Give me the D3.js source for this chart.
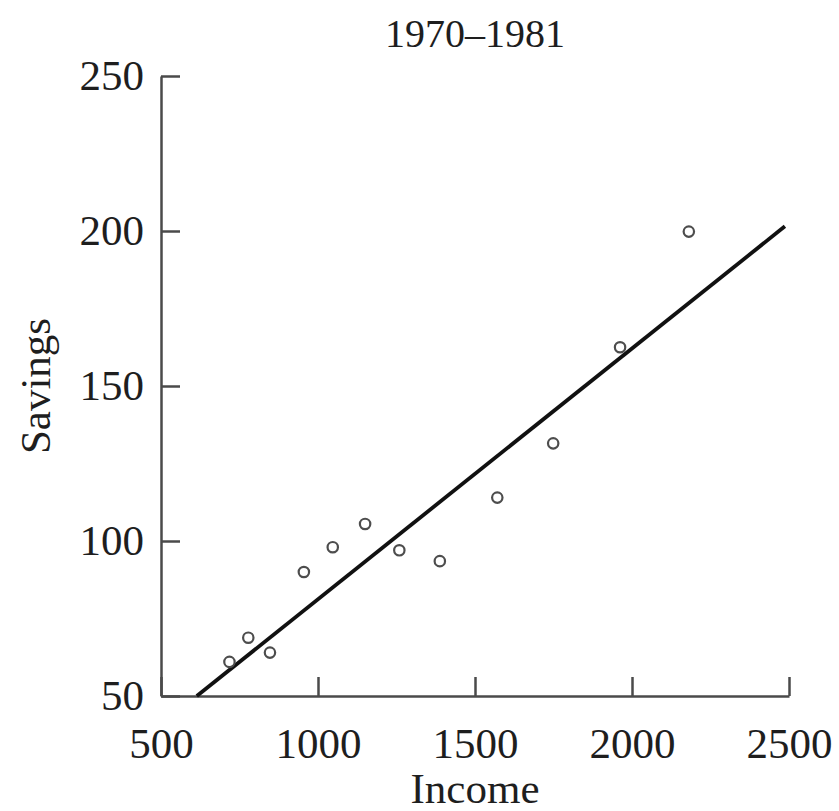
<!DOCTYPE html>
<html>
<head>
<meta charset="utf-8">
<script src="https://cdn.jsdelivr.net/npm/d3@7"></script>
<style>
  body { margin: 0; background: #fff; }
  text { font-family: "Liberation Serif", "DejaVu Serif", serif; fill: #1e1e1e; }
</style>
</head>
<body>
<div class="container"></div>
<script>
// data
var income = [718, 778, 847, 955, 1047, 1150, 1259, 1388, 1571, 1749, 1962, 2181];
var savings = [61.0, 68.8, 64.0, 90.0, 98.0, 105.5, 97.0, 93.5, 114.0, 131.5, 162.5, 199.8];
var xTicks = [500, 1000, 1500, 2000, 2500];
var yTicks = [50, 100, 150, 200, 250];
// fitted line end points
var fitX = [614, 2487];
var fitY = [50, 201.5];

var W = 839, H = 811;
var margin = {top: 76, right: 50, bottom: 115, left: 161};
var w = W - margin.left - margin.right;
var h = H - margin.top - margin.bottom;

var svg = d3.select('.container')
  .append('svg')
  .attr('width', W)
  .attr('height', H);

var g = svg.append('g')
  .attr('transform', 'translate(' + margin.left + ',' + margin.top + ')');

var xScale = d3.scaleLinear().domain([500, 2500]).range([0, w]);
var yScale = d3.scaleLinear().domain([50, 250]).range([h, 0]);

var xAxis = d3.axisBottom(xScale)
  .tickValues(xTicks)
  .tickSizeInner(-19)
  .tickSizeOuter(0)
  .tickPadding(31)
  .tickFormat(d3.format('d'));

var yAxis = d3.axisLeft(yScale)
  .tickValues(yTicks)
  .tickSizeInner(-19)
  .tickSizeOuter(0)
  .tickPadding(17)
  .tickFormat(d3.format('d'));

var gx = g.append('g')
  .attr('transform', 'translate(0,' + h + ')')
  .call(xAxis);

var gy = g.append('g')
  .call(yAxis);

[gx, gy].forEach(function(a) {
  a.select('.domain').attr('stroke', '#4a4a4a').attr('stroke-width', 2.5);
  a.selectAll('.tick line').attr('stroke', '#4a4a4a').attr('stroke-width', 2.5);
  a.selectAll('.tick text')
    .style('font-family', '"Liberation Serif", serif')
    .style('font-size', '43px')
    .attr('fill', '#1e1e1e');
});

// fitted line
g.append('path')
  .datum(d3.zip(fitX, fitY))
  .attr('fill', 'none')
  .attr('stroke', '#111')
  .attr('stroke-width', 3.8)
  .attr('d', d3.line()
    .x(function(d) { return xScale(d[0]); })
    .y(function(d) { return yScale(d[1]); }));

g.selectAll('circle')
  .data(income)
  .enter()
  .append('circle')
  .attr('cx', function(d) { return xScale(d); })
  .attr('cy', function(d, i) { return yScale(savings[i]); })
  .attr('r', 5.2)
  .attr('fill', 'none')
  .attr('stroke', '#4d4d4d')
  .attr('stroke-width', 2.2);

// title and axis labels
svg.append('text')
  .attr('x', margin.left + w / 2)
  .attr('y', 47)
  .attr('text-anchor', 'middle')
  .style('font-size', '40px')
  .text('1970–1981');

svg.append('text')
  .attr('x', margin.left + w / 2)
  .attr('y', 803)
  .attr('text-anchor', 'middle')
  .style('font-size', '43px')
  .text('Income');

svg.append('text')
  .attr('transform', 'translate(50,386) rotate(-90)')
  .attr('text-anchor', 'middle')
  .style('font-size', '43px')
  .text('Savings');
</script>
</body>
</html>
